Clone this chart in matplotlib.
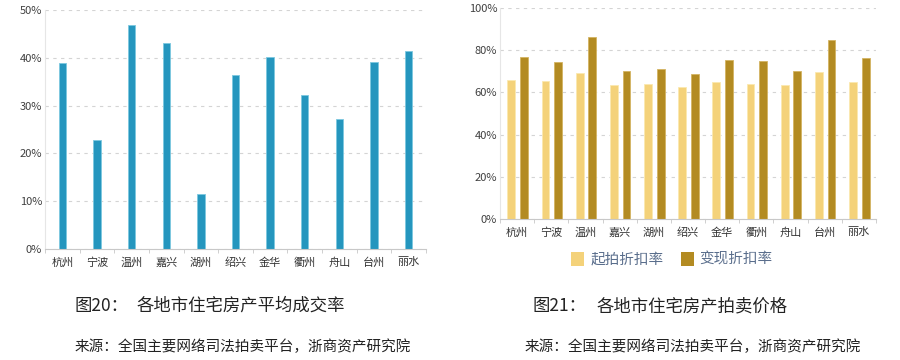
import numpy as np
import matplotlib
matplotlib.use('Agg')
import matplotlib.pyplot as plt
from matplotlib.ticker import FixedLocator, PercentFormatter
from matplotlib.patches import Patch

plt.rcParams['font.family'] = ['Noto Sans CJK SC', 'DejaVu Sans']

cities = ['杭州', '宁波', '温州', '嘉兴', '湖州', '绍兴', '金华', '衢州', '舟山', '台州', '丽水']
deal_rate = [38.9, 22.9, 46.8, 43.2, 11.6, 36.4, 40.2, 32.3, 27.1, 39.2, 41.4]
start_discount = [66.0, 65.6, 69.2, 63.4, 64.2, 62.7, 64.9, 64.2, 63.4, 69.8, 64.9]
final_discount = [76.9, 74.2, 86.3, 70.3, 70.9, 68.6, 75.5, 74.7, 70.3, 84.6, 76.3]

fig_no_left, title_left = '图20：', '各地市住宅房产平均成交率'
fig_no_right, title_right = '图21：', '各地市住宅房产拍卖价格'
source = '来源：全国主要网络司法拍卖平台，浙商资产研究院'
legend_labels = ['起拍折扣率', '变现折扣率']

W, H = 900, 360
fig = plt.figure(figsize=(W / 100, H / 100), dpi=100)


def px_axes(x0, y0, x1, y1):
    return fig.add_axes([x0 / W, 1 - y1 / H, (x1 - x0) / W, (y1 - y0) / H])


def style(ax, ymax, step):
    x = np.arange(len(cities))
    ax.set_xlim(-0.5, len(cities) - 0.5)
    ax.set_ylim(0, ymax)
    ax.set_yticks(np.arange(0, ymax + 1, step))
    ax.yaxis.set_major_formatter(PercentFormatter(decimals=0))
    ax.set_xticks(x)
    ax.set_xticklabels(cities)
    ax.xaxis.set_minor_locator(FixedLocator(np.arange(-0.5, len(cities), 1)))
    ax.tick_params(axis='x', which='major', length=0, labelsize=8, colors='#333333', pad=6)
    ax.tick_params(axis='x', which='minor', length=3, color='#c8c8c8')
    ax.tick_params(axis='y', length=0, labelsize=8, colors='#404040', pad=2)
    ax.grid(axis='y', linestyle=(0, (3, 4)), color='#d4d4d4', linewidth=0.8)
    ax.set_axisbelow(True)
    for s in ['top', 'right']:
        ax.spines[s].set_visible(False)
    ax.spines['left'].set_color('#e6e6e6')
    ax.spines['bottom'].set_color('#c8c8c8')
    return x


# left chart
ax1 = px_axes(45, 10, 426, 249)
x = style(ax1, 50, 10)
ax1.bar(x, deal_rate, width=0.21, color='#2596BE', edgecolor='#7cc8e0', linewidth=0.6)

# right chart
ax2 = px_axes(500, 8, 876, 219)
x = style(ax2, 100, 20)
ax2.bar(x - 0.17, start_discount, width=0.23, color='#F4D27A', edgecolor='#fbe9b0', linewidth=0.6)
ax2.bar(x + 0.2, final_discount, width=0.23, color='#B38B22', edgecolor='#d4b462', linewidth=0.6)
handles = [Patch(facecolor='#F4D27A'), Patch(facecolor='#B38B22')]
fig.legend(handles, legend_labels, loc='center', bbox_to_anchor=(672 / W, 1 - 259 / H),
           ncol=2, frameon=False, fontsize=10.5, handlelength=0.9, handleheight=1.1,
           handletextpad=0.4, columnspacing=1.2, labelcolor='#5a6e8c')

# captions
cap = dict(fontsize=12.5, va='center', color='#222222')
fig.text(75 / W, 1 - 306 / H, fig_no_left, **cap)
fig.text(137 / W, 1 - 306 / H, title_left, **cap)
fig.text(533 / W, 1 - 306 / H, fig_no_right, **cap)
fig.text(597 / W, 1 - 306 / H, title_right, **cap)
fig.text(75 / W, 1 - 347 / H, source, fontsize=10.5, va='center', color='#222222')
fig.text(525 / W, 1 - 347 / H, source, fontsize=10.5, va='center', color='#222222')

fig.savefig('out.png', dpi=100)
